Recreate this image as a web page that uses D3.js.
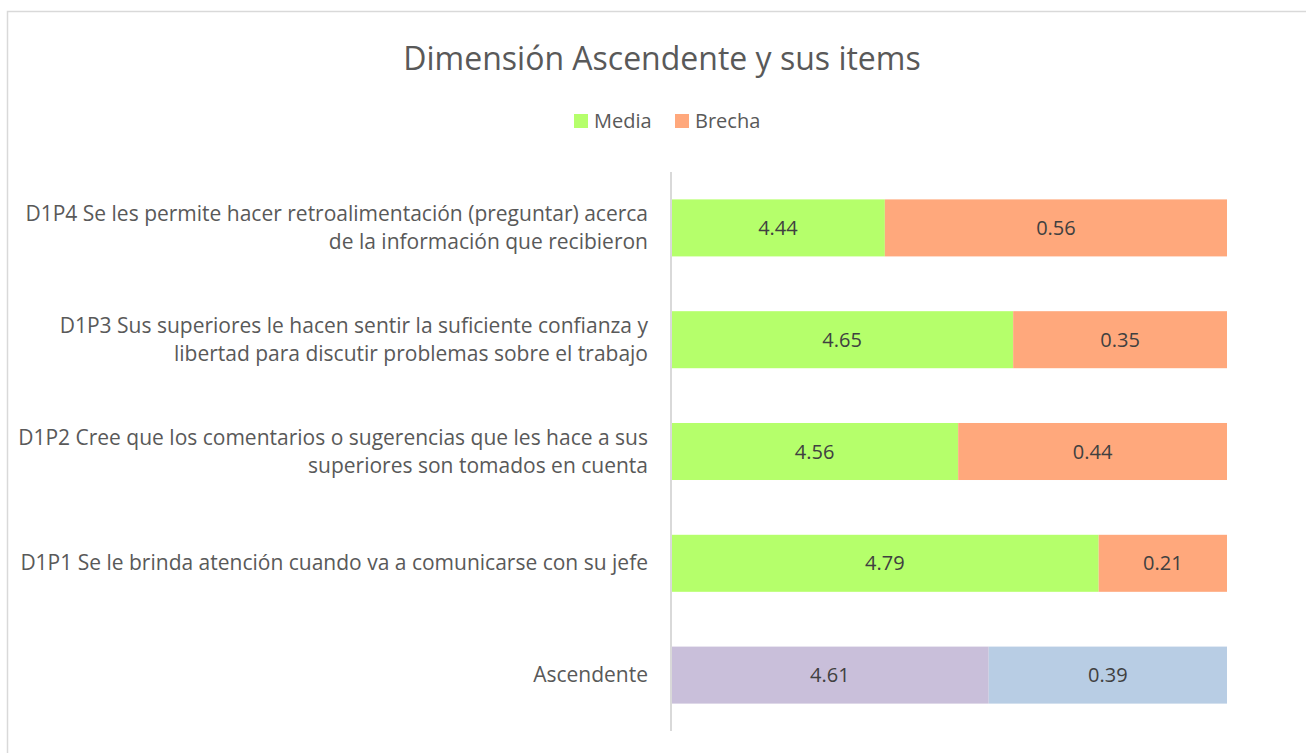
<!DOCTYPE html>
<html>
<head>
<meta charset="utf-8">
<script src="https://cdn.jsdelivr.net/npm/d3@7"></script>
<style>
  body { margin: 0; background: #fff; }
  svg { display: block; font-family: "Open Sans", "Noto Sans", sans-serif; }
</style>
</head>
<body>
<script>
// categories, top to bottom
var categories = ["D1P4", "D1P3", "D1P2", "D1P1", "Ascendente"];
var labels = [
  ["D1P4 Se les permite hacer retroalimentación (preguntar) acerca", "de la información que recibieron"],
  ["D1P3 Sus superiores le hacen sentir la suficiente confianza y", "libertad para discutir problemas sobre el trabajo"],
  ["D1P2 Cree que los comentarios o sugerencias que les hace a sus", "superiores son tomados en cuenta"],
  ["D1P1 Se le brinda atención cuando va a comunicarse con su jefe"],
  ["Ascendente"]
];
var media = [4.44, 4.65, 4.56, 4.79, 4.61];
var brecha = [0.56, 0.35, 0.44, 0.21, 0.39];
var seriesNames = ["Media", "Brecha"];

var w = 1306, h = 753;

var svg = d3.select("body")
  .append("svg")
  .attr("width", w)
  .attr("height", h);

// chart frame
svg.append("rect")
  .attr("x", 7.5).attr("y", 11.5)
  .attr("width", w + 20).attr("height", h + 20)
  .attr("fill", "none")
  .attr("stroke", "#d9d9d9")
  .attr("stroke-width", 1.5);

// title
svg.append("text")
  .attr("x", 662).attr("y", 70)
  .attr("text-anchor", "middle")
  .attr("fill", "#595959")
  .style("font-size", "32px")
  .text("Dimensión Ascendente y sus items");

// legend
var legendColors = ["#b5ff6b", "#ffa87c"];
var legendX = [574, 675];
seriesNames.forEach(function(s, i) {
  svg.append("rect")
    .attr("x", legendX[i]).attr("y", 114)
    .attr("width", 14).attr("height", 14)
    .attr("fill", legendColors[i]);
  svg.append("text")
    .attr("x", legendX[i] + 20).attr("y", 128)
    .attr("fill", "#595959")
    .style("font-size", "20px")
    .text(s);
});

// scales
var xScale = d3.scaleLinear()
  .domain([4.09, 5])
  .range([671, 1227]);

var yScale = d3.scaleBand()
  .domain(categories)
  .range([172, 731])
  .paddingInner(0.49)
  .paddingOuter(0.245);

var rows = categories.map(function(c, i) {
  return { cat: c, media: media[i], brecha: brecha[i], label: labels[i], total: i === 4 };
});

// media bars
svg.selectAll("rect.media")
  .data(rows)
  .enter()
  .append("rect")
  .attr("class", "media")
  .attr("x", xScale(4.09))
  .attr("y", function(d) { return yScale(d.cat); })
  .attr("width", function(d) { return xScale(d.media) - xScale(4.09); })
  .attr("height", yScale.bandwidth())
  .attr("fill", function(d) { return d.total ? "#c9bfda" : "#b5ff6b"; });

// brecha bars
svg.selectAll("rect.brecha")
  .data(rows)
  .enter()
  .append("rect")
  .attr("class", "brecha")
  .attr("x", function(d) { return xScale(d.media); })
  .attr("y", function(d) { return yScale(d.cat); })
  .attr("width", function(d) { return xScale(d.media + d.brecha) - xScale(d.media); })
  .attr("height", yScale.bandwidth())
  .attr("fill", function(d) { return d.total ? "#b8cde4" : "#ffa87c"; });

// value labels
rows.forEach(function(d) {
  var cy = yScale(d.cat) + yScale.bandwidth() / 2 + 7;
  svg.append("text")
    .attr("x", (xScale(4.09) + xScale(d.media)) / 2)
    .attr("y", cy)
    .attr("text-anchor", "middle")
    .attr("fill", "#404040")
    .style("font-size", "20px")
    .text(d.media.toFixed(2));
  svg.append("text")
    .attr("x", (xScale(d.media) + xScale(d.media + d.brecha)) / 2)
    .attr("y", cy)
    .attr("text-anchor", "middle")
    .attr("fill", "#404040")
    .style("font-size", "20px")
    .text(d.brecha.toFixed(2));
});

// category axis line
svg.append("line")
  .attr("x1", 671).attr("x2", 671)
  .attr("y1", 172).attr("y2", 731)
  .attr("stroke", "#d9d9d9")
  .attr("stroke-width", 2);

// category labels
rows.forEach(function(d) {
  var mid = yScale(d.cat) + yScale.bandwidth() / 2;
  var n = d.label.length;
  d.label.forEach(function(line, j) {
    svg.append("text")
      .attr("x", 648)
      .attr("y", mid + 7 + (j - (n - 1) / 2) * 28)
      .attr("text-anchor", "end")
      .attr("fill", "#595959")
      .style("font-size", "21px")
      .text(line);
  });
});
</script>
</body>
</html>
